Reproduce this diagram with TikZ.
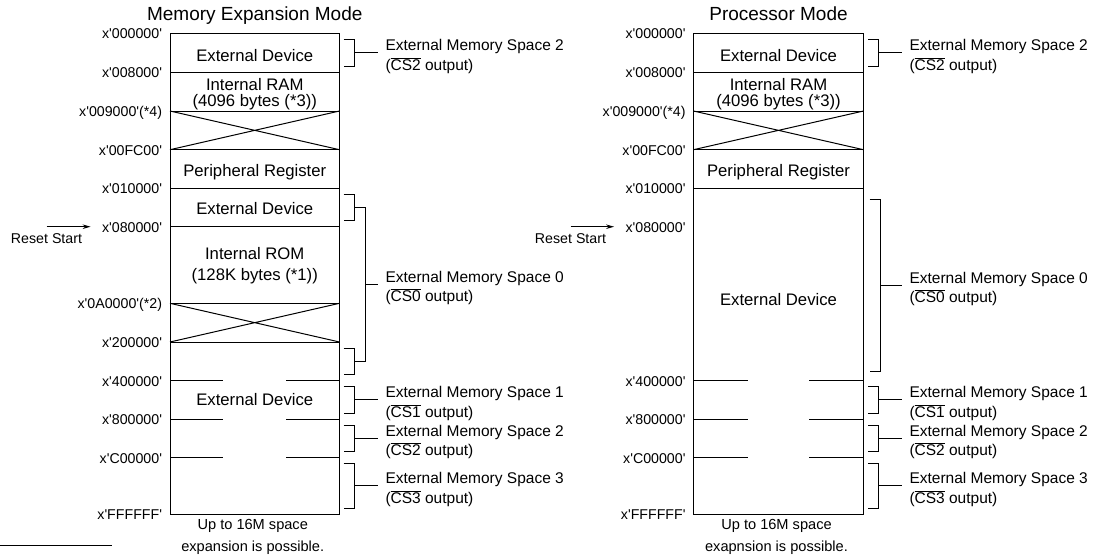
\documentclass[tikz,border=0pt]{standalone}
\usepackage{fontspec}
\setmainfont{Liberation Sans}
\usetikzlibrary{arrows.meta,positioning}
\newcommand{\csbar}[1]{\ensuremath{\overline{\mbox{#1}}}}
\newcommand{\hx}[1]{x\textquotesingle#1\textquotesingle}

\begin{document}
\begin{tikzpicture}[x=1pt, y=-1pt, >={Stealth[length=8pt,width=4.5pt]}, line width=1pt,
    ttl/.style={font=\fontsize{19}{22}\selectfont, anchor=base, inner sep=0pt},
    blk/.style={font=\fontsize{16.7}{21.7}\selectfont, align=center, inner sep=0pt},
    addr/.style={font=\fontsize{14.2}{17}\selectfont, anchor=base east, inner sep=0pt},
    rst/.style={font=\fontsize{14.2}{17}\selectfont, inner sep=0pt},
    spc/.style={font=\fontsize{15.5}{19.3}\selectfont, align=left, inner sep=0pt},
    note/.style={font=\fontsize{14.6}{21.7}\selectfont, align=center, inner sep=0pt}]
    \useasboundingbox (0,0) rectangle (1101,555);
    \pgfmathsetmacro{\xa}{170}
    \pgfmathsetmacro{\xb}{339.5}
    \pgfmathsetmacro{\xc}{693.5}
    \pgfmathsetmacro{\xd}{863.5}
    \pgfmathsetmacro{\xm}{(\xa+\xb)/2}
    \pgfmathsetmacro{\xn}{(\xc+\xd)/2}
    \pgfmathsetmacro{\yA}{33.3}
    \pgfmathsetmacro{\yB}{72.3}
    \pgfmathsetmacro{\yC}{111}
    \pgfmathsetmacro{\yD}{149.7}
    \pgfmathsetmacro{\yE}{188}
    \pgfmathsetmacro{\yF}{226.7}
    \pgfmathsetmacro{\yG}{303.3}
    \pgfmathsetmacro{\yH}{342}
    \pgfmathsetmacro{\yI}{380.5}
    \pgfmathsetmacro{\yJ}{419}
    \pgfmathsetmacro{\yK}{457.7}
    \pgfmathsetmacro{\yL}{514}
    % memory expansion mode
    \node[ttl] (lttl) at (\xm,20.7) {Memory Expansion Mode};
    \draw (\xa,\yA) rectangle (\xb,\yL);
    \draw (\xa,\yB) -- (\xb,\yB) (\xa,\yC) -- (\xb,\yC) (\xa,\yD) -- (\xb,\yD)
      (\xa,\yE) -- (\xb,\yE) (\xa,\yF) -- (\xb,\yF) (\xa,\yG) -- (\xb,\yG)
      (\xa,\yH) -- (\xb,\yH);
    \draw (\xa,\yC) -- (\xb,\yD) (\xa,\yD) -- (\xb,\yC);
    \draw (\xa,\yG) -- (\xb,\yH) (\xa,\yH) -- (\xb,\yG);
    \draw (\xa,\yI) -- ++(53,0) (\xb,\yI) -- ++(-54,0);
    \draw (\xa,\yJ) -- ++(53,0) (\xb,\yJ) -- ++(-54,0);
    \draw (\xa,\yK) -- ++(53,0) (\xb,\yK) -- ++(-54,0);
    \node[blk, anchor=base] (led1) at (\xm,61) {External Device};
    \node[blk, font=\fontsize{16.7}{15.5}\selectfont] (lram) at (\xm,94.2) {Internal RAM\\(4096 bytes (*3))};
    \node[blk, anchor=base] (lper) at (\xm,176) {Peripheral Register};
    \node[blk, anchor=base] (led2) at (\xm,214) {External Device};
    \node[blk] (lrom) at (\xm,265.6) {Internal ROM\\(128K bytes (*1))};
    \node[blk, anchor=base] (led3) at (\xm,405) {External Device};
    \node[note] (lnote) at (\xm-2,537.1) {Up to 16M space\\expansion is possible.};
    \node[addr] (la1) at (\xa-7.5,\yA+5.5) {\hx{000000}};
    \node[addr] (la2) at (\xa-7.5,\yB+5.5) {\hx{008000}};
    \node[addr] (la3) at (\xa-7.5,\yC+5.5) {\hx{009000}(*4)};
    \node[addr] (la4) at (\xa-7.5,\yD+5.5) {\hx{00FC00}};
    \node[addr] (la5) at (\xa-7.5,\yE+5.5) {\hx{010000}};
    \node[addr] (la6) at (\xa-7.5,\yF+5.5) {\hx{080000}};
    \node[addr] (la7) at (\xa-7.5,\yG+5.5) {\hx{0A0000}(*2)};
    \node[addr] (la8) at (\xa-7.5,\yH+5.5) {\hx{200000}};
    \node[addr] (la9) at (\xa-7.5,\yI+5.5) {\hx{400000}};
    \node[addr] (la10) at (\xa-7.5,\yJ+5.5) {\hx{800000}};
    \node[addr] (la11) at (\xa-7.5,\yK+5.5) {\hx{C00000}};
    \node[addr] (la12) at (\xa-7.5,\yL+5.5) {\hx{FFFFFF}};
    \coordinate (lrs) at (46.5,\yF);
    \node[rst, below=6.4pt of lrs] (lrst) {Reset Start};
    \draw[->, shorten >=11pt] (lrs) -- (lrs -| la6.west);
    \draw (\xb+4,39.3) -- (\xb+14.5,39.3) -- (\xb+14.5,66.3) -- (\xb+4,66.3);
    \coordinate (ls2) at (\xb+38.5,52.8);
    \draw (\xb+14.5,52.8) -- (ls2);
    \node[spc, right=7pt of ls2, yshift=-3.6pt] (lsp2) {External Memory Space 2\\(\csbar{CS2} output)};
    \draw (\xb+4,194) -- (\xb+14.5,194) -- (\xb+14.5,220.7) -- (\xb+4,220.7);
    \draw (\xb+4,348) -- (\xb+14.5,348) -- (\xb+14.5,374.5) -- (\xb+4,374.5);
    \draw (\xb+14.5,207.3) -- (\xb+26,207.3) -- (\xb+26,361.3) -- (\xb+14.5,361.3);
    \coordinate (ls0) at (\xb+38.5,284.3);
    \draw (\xb+26,284.3) -- (ls0);
    \node[spc, right=7pt of ls0, yshift=-3.6pt] (lsp0) {External Memory Space 0\\(\csbar{CS0} output)};
    \draw (\xb+4,386.5) -- (\xb+14.5,386.5) -- (\xb+14.5,413) -- (\xb+4,413);
    \coordinate (ls1) at (\xb+38.5,399.8);
    \draw (\xb+14.5,399.8) -- (ls1);
    \node[spc, right=7pt of ls1, yshift=-3.6pt] (lsp1) {External Memory Space 1\\(\csbar{CS1} output)};
    \draw (\xb+4,425) -- (\xb+14.5,425) -- (\xb+14.5,451.7) -- (\xb+4,451.7);
    \coordinate (ls2b) at (\xb+38.5,438.4);
    \draw (\xb+14.5,438.4) -- (ls2b);
    \node[spc, right=7pt of ls2b, yshift=-3.6pt] (lsp2b) {External Memory Space 2\\(\csbar{CS2} output)};
    \draw (\xb+4,463.7) -- (\xb+14.5,463.7) -- (\xb+14.5,508) -- (\xb+4,508);
    \coordinate (ls3) at (\xb+38.5,485.9);
    \draw (\xb+14.5,485.9) -- (ls3);
    \node[spc, right=7pt of ls3, yshift=-3.6pt] (lsp3) {External Memory Space 3\\(\csbar{CS3} output)};
    % processor mode
    \node[ttl] (rttl) at (\xn,20.7) {Processor Mode};
    \draw (\xc,\yA) rectangle (\xd,\yL);
    \draw (\xc,\yB) -- (\xd,\yB) (\xc,\yC) -- (\xd,\yC) (\xc,\yD) -- (\xd,\yD)
      (\xc,\yE) -- (\xd,\yE);
    \draw (\xc,\yC) -- (\xd,\yD) (\xc,\yD) -- (\xd,\yC);
    \draw (\xc,\yI) -- ++(54,0) (\xd,\yI) -- ++(-54.5,0);
    \draw (\xc,\yJ) -- ++(54,0) (\xd,\yJ) -- ++(-54.5,0);
    \draw (\xc,\yK) -- ++(54,0) (\xd,\yK) -- ++(-54.5,0);
    \node[blk, anchor=base] (red1) at (\xn,61) {External Device};
    \node[blk, font=\fontsize{16.7}{15.5}\selectfont] (rram) at (\xn,94.2) {Internal RAM\\(4096 bytes (*3))};
    \node[blk, anchor=base] (rper) at (\xn,176) {Peripheral Register};
    \node[blk, anchor=base] (red2) at (\xn,305) {External Device};
    \node[note] (rnote) at (\xn-2,537.1) {Up to 16M space\\exapnsion is possible.};
    \node[addr] (ra1) at (\xc-7.5,\yA+5.5) {\hx{000000}};
    \node[addr] (ra2) at (\xc-7.5,\yB+5.5) {\hx{008000}};
    \node[addr] (ra3) at (\xc-7.5,\yC+5.5) {\hx{009000}(*4)};
    \node[addr] (ra4) at (\xc-7.5,\yD+5.5) {\hx{00FC00}};
    \node[addr] (ra5) at (\xc-7.5,\yE+5.5) {\hx{010000}};
    \node[addr] (ra6) at (\xc-7.5,\yF+5.5) {\hx{080000}};
    \node[addr] (ra7) at (\xc-7.5,\yI+5.5) {\hx{400000}};
    \node[addr] (ra8) at (\xc-7.5,\yJ+5.5) {\hx{800000}};
    \node[addr] (ra9) at (\xc-7.5,\yK+5.5) {\hx{C00000}};
    \node[addr] (ra10) at (\xc-7.5,\yL+5.5) {\hx{FFFFFF}};
    \coordinate (rrs) at (570.5,\yF);
    \node[rst, below=6.4pt of rrs] (rrst) {Reset Start};
    \draw[->, shorten >=11pt] (rrs) -- (rrs -| ra6.west);
    \draw (\xd+4.5,39.3) -- (\xd+15,39.3) -- (\xd+15,66.3) -- (\xd+4.5,66.3);
    \coordinate (rs2) at (\xd+38.5,52.8);
    \draw (\xd+15,52.8) -- (rs2);
    \node[spc, right=7pt of rs2, yshift=-3.6pt] (rsp2) {External Memory Space 2\\(\csbar{CS2} output)};
    \draw (\xd+6,199) -- (\xd+17,199) -- (\xd+17,371.7) -- (\xd+6,371.7);
    \coordinate (rs0) at (\xd+38.5,285.3);
    \draw (\xd+17,285.3) -- (rs0);
    \node[spc, right=7pt of rs0, yshift=-3.6pt] (rsp0) {External Memory Space 0\\(\csbar{CS0} output)};
    \draw (\xd+4.5,386.5) -- (\xd+15,386.5) -- (\xd+15,413) -- (\xd+4.5,413);
    \coordinate (rs1) at (\xd+38.5,399.8);
    \draw (\xd+15,399.8) -- (rs1);
    \node[spc, right=7pt of rs1, yshift=-3.6pt] (rsp1) {External Memory Space 1\\(\csbar{CS1} output)};
    \draw (\xd+4.5,425) -- (\xd+15,425) -- (\xd+15,451.7) -- (\xd+4.5,451.7);
    \coordinate (rs2b) at (\xd+38.5,438.4);
    \draw (\xd+15,438.4) -- (rs2b);
    \node[spc, right=7pt of rs2b, yshift=-3.6pt] (rsp2b) {External Memory Space 2\\(\csbar{CS2} output)};
    \draw (\xd+4.5,463.7) -- (\xd+15,463.7) -- (\xd+15,508) -- (\xd+4.5,508);
    \coordinate (rs3) at (\xd+38.5,485.9);
    \draw (\xd+15,485.9) -- (rs3);
    \node[spc, right=7pt of rs3, yshift=-3.6pt] (rsp3) {External Memory Space 3\\(\csbar{CS3} output)};
    \draw (0,545) -- (111.7,545);
\end{tikzpicture}
\end{document}
